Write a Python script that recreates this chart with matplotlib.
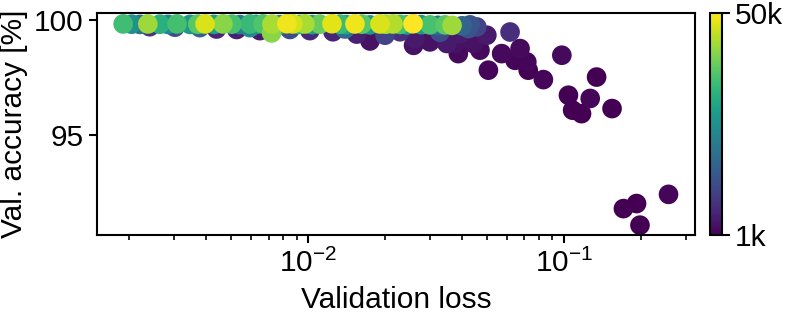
import numpy as np
import matplotlib
matplotlib.use("Agg")
import matplotlib.pyplot as plt
from matplotlib.colors import LogNorm

# ---------------------------
# Style
# ---------------------------
plt.rcParams["font.family"] = ["Liberation Sans", "DejaVu Sans"]
plt.rcParams["mathtext.fontset"] = "custom"
plt.rcParams["mathtext.rm"] = "Liberation Sans"
plt.rcParams["mathtext.it"] = "Liberation Sans:italic"
plt.rcParams["font.size"] = 21.5

# ---------------------------
# Data
# ---------------------------
# runs that reach ~100 % accuracy
loss_top = [0.00189, 0.00204, 0.00220, 0.00236, 0.00263, 0.00283, 0.00307, 0.00345,
            0.00370, 0.00395, 0.00428, 0.00464, 0.00503, 0.00541, 0.00592, 0.00625,
            0.00665, 0.00721, 0.00775, 0.00825, 0.00871, 0.00928, 0.00971, 0.01034,
            0.01111, 0.01238, 0.01330, 0.01404, 0.01522, 0.01622, 0.01743, 0.01907,
            0.02013, 0.02145, 0.02284, 0.02432, 0.02568, 0.02759, 0.02992, 0.03216,
            0.03424, 0.03648, 0.03991, 0.04290, 0.04230, 0.04560]
acc_top = [99.84, 99.83, 99.82, 99.84, 99.83, 99.82, 99.84, 99.82,
           99.83, 99.84, 99.82, 99.84, 99.83, 99.81, 99.84, 99.82,
           99.84, 99.83, 99.81, 99.85, 99.84, 99.82, 99.84, 99.81,
           99.83, 99.85, 99.83, 99.81, 99.84, 99.83, 99.80, 99.84,
           99.83, 99.84, 99.82, 99.80, 99.85, 99.81, 99.80, 99.78,
           99.80, 99.78, 99.76, 99.80, 99.64, 99.71]
n_top = [15000, 7000, 4400, 28000, 12000, 6000, 15500, 8000,
         18000, 40000, 9000, 25000, 16000, 5000, 14000, 8000,
         17000, 30000, 7000, 45000, 38000, 13000, 30000, 9000,
         20000, 42000, 14000, 10000, 45000, 18000, 8000, 40000,
         30000, 32000, 16000, 9000, 50000, 8000, 16000, 4000,
         18000, 28000, 3500, 2800, 2700, 2200]

# slightly worse runs just below the top band
loss_mid = [0.00240, 0.00301, 0.00377, 0.00438, 0.00525, 0.00592, 0.00647, 0.00719,
            0.00848, 0.01015, 0.01249, 0.01392, 0.01546, 0.01743, 0.01995, 0.02284,
            0.02614, 0.03273]
acc_mid = [99.72, 99.70, 99.68, 99.62, 99.60, 99.68, 99.55, 99.45,
           99.60, 99.55, 99.50, 99.62, 99.40, 99.10, 99.35, 99.50,
           99.20, 99.48]
n_mid = [1800, 2500, 3500, 1500, 1400, 6000, 1300, 25000,
         2500, 1600, 1500, 4000, 1400, 1200, 2200, 1700,
         1300, 2500]

# small-data runs that fall off
loss_low = [0.0258, 0.0299, 0.0348, 0.0375, 0.0386, 0.0392, 0.0442, 0.0469,
            0.0499, 0.0506, 0.0570, 0.0615, 0.0643, 0.0673, 0.0715, 0.0724,
            0.0830, 0.0980, 0.1040, 0.1080, 0.1170, 0.1265, 0.1340, 0.1540,
            0.1706, 0.1920, 0.1980, 0.2560]
acc_low = [98.91, 99.06, 98.99, 98.99, 98.55, 99.42, 98.99, 98.70,
           99.35, 97.83, 98.55, 99.49, 98.26, 98.77, 98.19, 97.83,
           97.42, 98.48, 96.74, 96.09, 95.94, 96.60, 97.53, 96.16,
           91.81, 92.03, 91.09, 92.43]
n_low = [1200, 1200, 1300, 1200, 1100, 1300, 1200, 1100,
         1300, 1050, 1100, 1700, 1050, 1100, 1050, 1000,
         1050, 1100, 1000, 1000, 1000, 1050, 1000, 1000,
         1000, 1000, 1000, 1050]

cbar_ticks = [1000, 50000]
cbar_labels = ["1k", "50k"]

# ---------------------------
# Plot
# ---------------------------
loss = np.array(loss_top + loss_mid + loss_low)
acc = np.array(acc_top + acc_mid + acc_low)
n_train = np.array(n_top + n_mid + n_low)
order = np.argsort(n_train)  # larger datasets drawn on top

fig = plt.figure(figsize=(7.89, 3.22), dpi=100)
ax = fig.add_axes([0.1226, 0.2693, 0.7583, 0.6913])
cax = fig.add_axes([0.8999, 0.2693, 0.0148, 0.6913])

norm = LogNorm(vmin=1000, vmax=50000)
sc = ax.scatter(loss[order], acc[order], c=n_train[order], cmap="viridis",
                norm=norm, s=200, linewidths=0)

ax.set_xscale("log")
ax.set_xlim(0.00149, 0.325)
ax.set_ylim(90.65, 100.33)
ax.set_yticks([95, 100])
ax.set_xlabel("Validation loss", labelpad=6)
ax.set_ylabel("Val. accuracy [%]")

for side in ax.spines.values():
    side.set_linewidth(1.5)
ax.tick_params(which="major", length=6, width=1.5)
ax.tick_params(which="minor", length=3.5, width=1.2)

cbar = fig.colorbar(sc, cax=cax)
cbar.set_ticks(cbar_ticks)
cbar.set_ticklabels(cbar_labels)
cbar.ax.minorticks_off()
cbar.ax.tick_params(length=6, width=1.5)
cbar.outline.set_linewidth(1.5)

fig.savefig("out.png", dpi=100)
